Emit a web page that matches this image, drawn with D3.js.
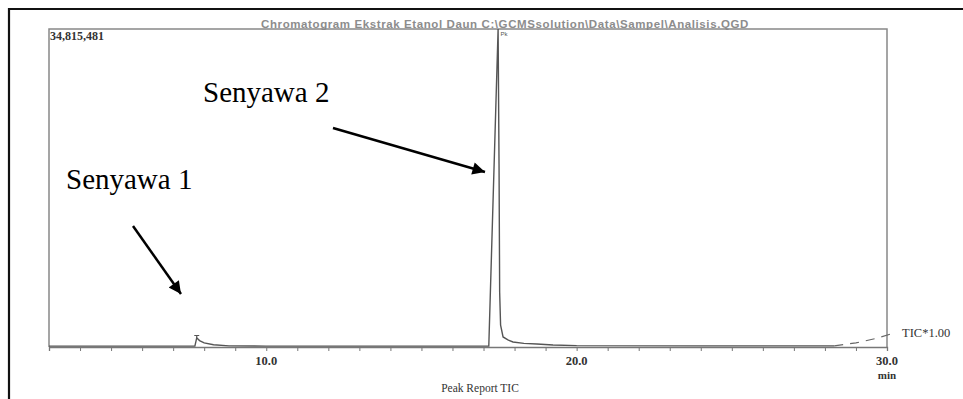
<!DOCTYPE html>
<html><head><meta charset="utf-8">
<script src="https://cdn.jsdelivr.net/npm/d3@7"></script>
<style>body{margin:0;background:#fff}svg{display:block}</style>
</head><body>
<svg id="c" width="963" height="399"></svg>
<script>
// Retention time (min) and TIC intensity
const times = [3.0, 5.0, 7.0, 7.70, 7.76, 7.85, 8.0, 8.3, 8.8, 10.0, 12.0, 15.0, 17.17, 17.47, 17.50, 17.52, 17.55, 17.63, 17.80, 17.95, 18.3, 18.72, 19.24, 20.0, 24.0, 28.3];
const intensity = [100000, 100000, 100000, 100000, 1000000, 700000, 450000, 250000, 120000, 100000, 100000, 100000, 100000, 34815481, 20000000, 6000000, 2400000, 1100000, 750000, 550000, 400000, 330000, 220000, 150000, 120000, 120000];
const tailTimes = [28.3, 29.0, 29.6, 30.2];
const tailIntensity = [120000, 450000, 900000, 1500000];
const xTicks = [10, 20, 30];
const maxLabel = "34,815,481";
const compounds = ["Senyawa 1", "Senyawa 2"];

const svg = d3.select("#c");
const x = d3.scaleLinear().domain([3, 30]).range([49, 887]);
const y = d3.scaleLinear().domain([0, 34815481]).range([347, 29]);

// outer frame (top and left)
svg.append("path").attr("d", "M9,399 V9 H963").attr("fill", "none").attr("stroke", "#111").attr("stroke-width", 2.2);

// blurred header text
svg.append("text").attr("x", 505).attr("y", 28).attr("text-anchor", "middle")
  .attr("font-family", "Liberation Sans").attr("font-size", 11.5).attr("font-weight", "bold")
  .attr("fill", "#666").attr("opacity", 0.75).attr("letter-spacing", 0.6)
  .text("Chromatogram Ekstrak Etanol Daun C:\\GCMSsolution\\Data\\Sampel\\Analisis.QGD");

// plot box
svg.append("path").attr("d", `M${x(3)},${y(0)} V${y(34815481)} H${x(30)} V${y(0)}`)
  .attr("fill", "none").attr("stroke", "#888").attr("stroke-width", 1.5);

// axis
const ax = svg.append("g").attr("transform", `translate(0,${y(0)})`)
  .call(d3.axisBottom(x).tickValues(d3.range(4, 31)).tickSize(4).tickFormat(""));
ax.select(".domain").attr("stroke", "#777").attr("stroke-width", 1.3);
ax.selectAll(".tick line").attr("stroke", "#777");
svg.selectAll(".lab").data(xTicks).enter().append("text")
  .attr("x", d => x(d)).attr("y", 365).attr("text-anchor", "middle")
  .attr("font-family", "Liberation Serif").attr("font-size", 12.5).attr("font-weight", "bold").attr("fill", "#333")
  .text(d => d.toFixed(1));
svg.append("text").attr("x", x(30)).attr("y", 379).attr("text-anchor", "middle")
  .attr("font-family", "Liberation Serif").attr("font-size", 11).attr("font-weight", "bold").attr("fill", "#333").text("min");
svg.append("text").attr("x", 480).attr("y", 392).attr("text-anchor", "middle")
  .attr("font-family", "Liberation Serif").attr("font-size", 11.5).attr("fill", "#333").text("Peak Report TIC");
svg.append("text").attr("x", 50).attr("y", 40)
  .attr("font-family", "Liberation Serif").attr("font-size", 12).attr("font-weight", "bold").attr("fill", "#333").text(maxLabel);

// trace
const line = d3.line().x((d, i) => x(d[0])).y(d => y(d[1]));
svg.append("path").datum(times.map((t, i) => [t, intensity[i]])).attr("d", line)
  .attr("fill", "none").attr("stroke", "#555").attr("stroke-width", 1.4);
svg.append("path").datum(tailTimes.map((t, i) => [t, tailIntensity[i]])).attr("d", line)
  .attr("fill", "none").attr("stroke", "#666").attr("stroke-width", 1.2).attr("stroke-dasharray", "9,7");

// peak markers
svg.append("path").attr("d", `M${x(7.68)},${y(1150000) - 1} H${x(7.84)} M${x(7.76)},${y(1150000) - 1} V${y(1000000)}`)
  .attr("stroke", "#555").attr("stroke-width", 1.2);
svg.append("text").attr("x", x(17.55)).attr("y", 36).attr("font-family", "Liberation Sans")
  .attr("font-size", 6).attr("fill", "#555").text("Pk");

svg.append("text").attr("x", 902).attr("y", 337).attr("font-family", "Liberation Serif")
  .attr("font-size", 12.5).attr("fill", "#333").text("TIC*1.00");

// annotations
const labels = [{t: compounds[0], lx: 66, ly: 189, x1: 133, y1: 226, x2: 181, y2: 294},
                {t: compounds[1], lx: 203, ly: 102, x1: 333, y1: 128, x2: 485, y2: 172}];
svg.append("defs").append("marker").attr("id", "ah").attr("viewBox", "0 0 10 10")
  .attr("refX", 10).attr("refY", 5).attr("markerWidth", 6).attr("markerHeight", 5)
  .attr("markerUnits", "strokeWidth").attr("orient", "auto")
  .append("path").attr("d", "M0,0 L10,5 L0,10 Z").attr("fill", "#000");
labels.forEach(l => {
  svg.append("text").attr("x", l.lx).attr("y", l.ly).attr("font-family", "Liberation Serif")
    .attr("font-size", 29).attr("fill", "#000").text(l.t);
  svg.append("line").attr("x1", l.x1).attr("y1", l.y1).attr("x2", l.x2).attr("y2", l.y2)
    .attr("stroke", "#000").attr("stroke-width", 2.5).attr("marker-end", "url(#ah)");
});
</script>
</body></html>
